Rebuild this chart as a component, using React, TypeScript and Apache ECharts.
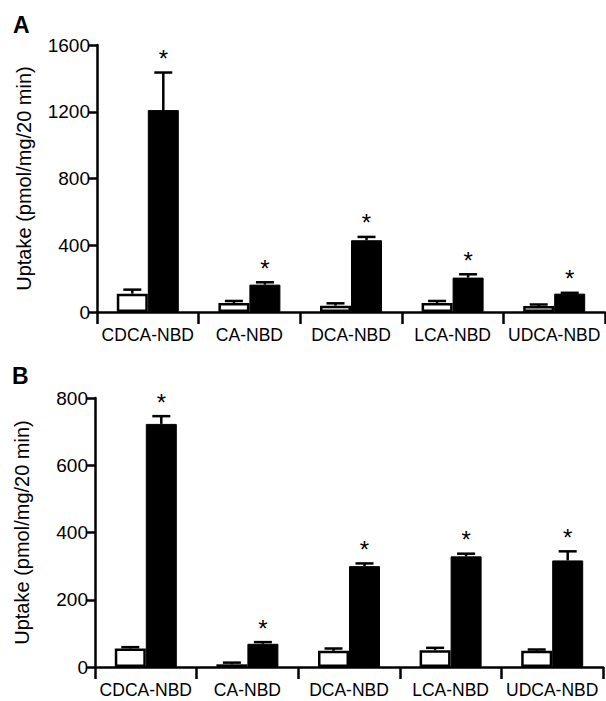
import React, { useEffect, useRef } from "react";
import * as echarts from "echarts";

const categories = ["CDCA-NBD", "CA-NBD", "DCA-NBD", "LCA-NBD", "UDCA-NBD"];

// Panel A
const aControl = [110, 54, 38, 54, 36];
const aControlErr = [24, 12, 14, 12, 9];
const aTreated = [1210, 164, 430, 206, 110];
const aTreatedErr = [225, 14, 20, 20, 5];
const aTicks = { min: 0, max: 1600, interval: 400 };

// Panel B
const bControl = [55, 8, 48, 50, 48];
const bControlErr = [4, 5, 7, 7, 4];
const bTreated = [723, 69, 300, 329, 317];
const bTreatedErr = [23, 5, 8, 8, 27];
const bTicks = { min: 0, max: 800, interval: 200 };

const FONT = "'Liberation Sans', Arial, Helvetica, sans-serif";
const BAR_W = 31;

function errData(ctrl: number[], ctrlErr: number[], trt: number[], trtErr: number[]) {
  const out: number[][] = [];
  ctrl.forEach((v, i) => out.push([i, v, ctrlErr[i], -1, 0]));
  trt.forEach((v, i) => out.push([i, v, trtErr[i], 1, 1]));
  return out;
}

function renderErr(params: any, api: any) {
  const x = api.value(0);
  const v = api.value(1);
  const e = api.value(2);
  const side = api.value(3);
  const star = api.value(4);
  const base = api.coord([x, v]);
  const top = api.coord([x, v + e]);
  const cx = base[0] + side * (BAR_W / 2);
  const children: any[] = [
    {
      type: "line",
      shape: { x1: cx, y1: base[1], x2: cx, y2: top[1] },
      style: { stroke: "#000", lineWidth: 2.5 },
    },
    {
      type: "line",
      shape: { x1: cx - 9, y1: top[1], x2: cx + 9, y2: top[1] },
      style: { stroke: "#000", lineWidth: 2.5 },
    },
  ];
  if (star) {
    children.push({
      type: "text",
      x: cx,
      y: top[1] - 14,
      style: {
        text: "*",
        fill: "#000",
        font: `24px ${FONT}`,
        align: "center",
        verticalAlign: "middle",
      },
    });
  }
  return { type: "group", children };
}

export default function App() {
  const ref = useRef<HTMLDivElement>(null);
  useEffect(() => {
    if (!ref.current) return;
    const chart = echarts.init(ref.current, null, { renderer: "svg" });
    const xAxisCommon = {
      type: "category" as const,
      data: categories,
      axisLine: { lineStyle: { color: "#000", width: 2.5 } },
      axisTick: { show: true, length: 12, interval: 0, lineStyle: { color: "#000", width: 2.5 } },
      axisLabel: { interval: 0, color: "#000", fontSize: 17.5, fontFamily: FONT, margin: 14 },
    };
    const yAxisCommon = {
      type: "value" as const,
      name: "Uptake (pmol/mg/20 min)",
      nameLocation: "middle" as const,
      nameGap: 63,
      nameTextStyle: { color: "#000", fontSize: 20, fontFamily: FONT },
      axisLine: { show: true, lineStyle: { color: "#000", width: 2.5 } },
      axisTick: { show: true, length: 8, lineStyle: { color: "#000", width: 2.5 } },
      axisLabel: {
        color: "#000", fontSize: 19, fontFamily: FONT, margin: 7,
        formatter: (v: number) => String(v),
      },
      splitLine: { show: false },
    };
    chart.setOption({
      animation: false,
      backgroundColor: "#fff",
      grid: [
        { left: 97, top: 45, width: 508, height: 267 },
        { left: 95, top: 398, width: 508, height: 269 },
      ],
      xAxis: [
        { ...xAxisCommon, gridIndex: 0 },
        { ...xAxisCommon, gridIndex: 1 },
      ],
      yAxis: [
        { ...yAxisCommon, gridIndex: 0, ...aTicks },
        { ...yAxisCommon, gridIndex: 1, ...bTicks },
      ],
      graphic: [
        { type: "text", left: 13, top: 13, style: { text: "A", fill: "#000", font: `bold 23px ${FONT}` } },
        { type: "text", left: 12, top: 364, style: { text: "B", fill: "#000", font: `bold 23px ${FONT}` } },
      ],
      series: [
        {
          type: "bar", xAxisIndex: 0, yAxisIndex: 0, data: aControl, barWidth: BAR_W, barGap: "0%",
          itemStyle: { color: "#fff", borderColor: "#000", borderWidth: 2.5 },
        },
        {
          type: "bar", xAxisIndex: 0, yAxisIndex: 0, data: aTreated, barWidth: BAR_W, barGap: "0%",
          itemStyle: { color: "#000", borderColor: "#000", borderWidth: 1 },
        },
        {
          type: "custom", xAxisIndex: 0, yAxisIndex: 0, renderItem: renderErr, z: 5,
          data: errData(aControl, aControlErr, aTreated, aTreatedErr),
        },
        {
          type: "bar", xAxisIndex: 1, yAxisIndex: 1, data: bControl, barWidth: BAR_W, barGap: "0%",
          itemStyle: { color: "#fff", borderColor: "#000", borderWidth: 2.5 },
        },
        {
          type: "bar", xAxisIndex: 1, yAxisIndex: 1, data: bTreated, barWidth: BAR_W, barGap: "0%",
          itemStyle: { color: "#000", borderColor: "#000", borderWidth: 1 },
        },
        {
          type: "custom", xAxisIndex: 1, yAxisIndex: 1, renderItem: renderErr, z: 5,
          data: errData(bControl, bControlErr, bTreated, bTreatedErr),
        },
      ],
    });
    return () => chart.dispose();
  }, []);
  return <div ref={ref} style={{ width: 606, height: 701, position: "absolute", left: 0, top: 0 }} />;
}
